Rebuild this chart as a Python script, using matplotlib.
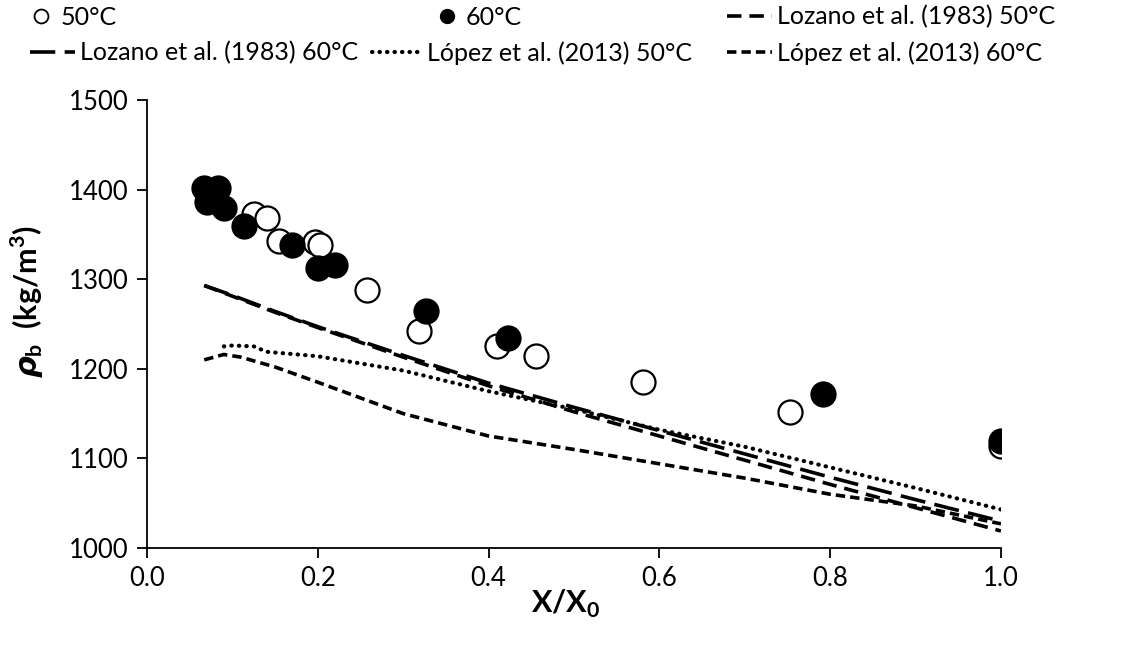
import matplotlib.pyplot as plt
from matplotlib.lines import Line2D

plt.rcParams['font.family'] = ['Lato', 'DejaVu Sans']
plt.rcParams['mathtext.fontset'] = 'custom'
plt.rcParams['mathtext.rm'] = 'Lato:bold'
plt.rcParams['mathtext.bf'] = 'Lato:bold'
plt.rcParams['mathtext.it'] = 'DejaVu Sans:italic:bold'

# measured points, 50 C (open) and 60 C (filled)
x50 = [0.125, 0.140, 0.155, 0.197, 0.202, 0.258, 0.318, 0.410, 0.455, 0.581, 0.753, 1.000]
rho50 = [1373, 1368, 1343, 1342, 1338, 1288, 1242, 1226, 1214, 1185, 1152, 1114]
x60 = [0.067, 0.083, 0.070, 0.090, 0.114, 0.170, 0.200, 0.220, 0.327, 0.423, 0.792, 1.000]
rho60 = [1402, 1402, 1386, 1380, 1359, 1338, 1313, 1316, 1265, 1234, 1172, 1119]

# model curves
x_loz = [0.067, 0.1, 0.15, 0.2, 0.3, 0.4, 0.5, 0.6, 0.7, 0.8, 0.9, 1.0]
loz50 = [1293, 1281, 1263, 1246, 1213, 1181, 1152, 1125, 1098, 1071, 1045, 1019]
loz60 = [1293, 1282, 1264, 1247, 1215, 1184, 1157, 1131, 1105, 1079, 1054, 1030]
x_lop50 = [0.09, 0.1, 0.125, 0.14, 0.2, 0.3, 0.4, 0.5, 0.6, 0.7, 0.8, 0.9, 1.0]
lop50 = [1225, 1226, 1225, 1219, 1214, 1198, 1175, 1155, 1132, 1113, 1090, 1067, 1043]
x_lop60 = [0.067, 0.09, 0.11, 0.15, 0.2, 0.3, 0.4, 0.5, 0.6, 0.7, 0.8, 0.9, 1.0]
lop60 = [1210, 1216, 1213, 1202, 1185, 1150, 1125, 1110, 1094, 1078, 1060, 1047, 1027]

fig = plt.figure(figsize=(11.31, 6.56), dpi=100)
ax = fig.add_axes([0.130, 0.1646, 0.755, 0.683])

lw = 2.6
l1, = ax.plot(x_loz, loz50, color='black', lw=lw, dashes=(4, 2.2), label='Lozano et al. (1983) 50°C')
l2, = ax.plot(x_loz, loz60, color='black', lw=lw, dashes=(7, 2.6), label='Lozano et al. (1983) 60°C')
l3, = ax.plot(x_lop50, lop50, color='black', lw=lw + 0.4, dashes=(0.1, 1.7), dash_capstyle='round',
              label='López et al. (2013) 50°C')
l4, = ax.plot(x_lop60, lop60, color='black', lw=lw, dashes=(2.6, 1.4), label='López et al. (2013) 60°C')
ax.scatter(x50, rho50, s=300, facecolor='white', edgecolor='black', linewidth=1.6, zorder=3)
ax.scatter(x60, rho60, s=300, facecolor='black', edgecolor='black', linewidth=1.6, zorder=4)

ax.set_xlim(0, 1.0)
ax.set_ylim(1000, 1500)
ax.set_xticks([0.0, 0.2, 0.4, 0.6, 0.8, 1.0])
ax.set_xticklabels(['0.0', '0.2', '0.4', '0.6', '0.8', '1.0'])
ax.set_yticks([1000, 1100, 1200, 1300, 1400, 1500])
for s in ['top', 'right']:
    ax.spines[s].set_visible(False)
for s in ['left', 'bottom']:
    ax.spines[s].set_linewidth(1.3)
ax.tick_params(labelsize=18.5, length=7, width=1.3, pad=6)

ax.set_xlabel(r'X/X$_\mathbf{0}$', fontsize=22, fontweight='bold')
ax.xaxis.set_label_coords(0.49, -0.09)
ax.xaxis.label.set_va('top')
ax.set_ylabel(r'$\rho_\mathbf{b}$  (kg/m$^\mathbf{3}$)', fontsize=22, fontweight='bold')
ax.yaxis.set_label_coords(-0.118, 0.55)

# legend entries laid out like the original (two rows, uneven columns)
h_open = Line2D([], [], marker='o', ls='none', ms=10, mfc='white', mec='black', mew=1.3)
h_fill = Line2D([], [], marker='o', ls='none', ms=10, mfc='black', mec='black')
entries = [
    (h_open, '50°C', 0.0256, 0.974, 1.0, 0.25),
    (h_fill, '60°C', 0.384, 0.974, 1.0, 0.25),
    (l1, 'Lozano et al. (1983) 50°C', 0.643, 0.974, 1.8, 0.2),
    (l2, 'Lozano et al. (1983) 60°C', 0.0265, 0.919, 1.8, 0.2),
    (l3, 'López et al. (2013) 50°C', 0.329, 0.919, 1.9, 0.3),
    (l4, 'López et al. (2013) 60°C', 0.643, 0.919, 1.8, 0.2),
]
for h, t, lx, ly, hl, tp in entries:
    fig.legend([h], [t], loc='center left', bbox_to_anchor=(lx, ly), frameon=False,
               fontsize=18, handlelength=hl, handletextpad=tp, borderpad=0, borderaxespad=0)

fig.savefig('out.png', dpi=100)
